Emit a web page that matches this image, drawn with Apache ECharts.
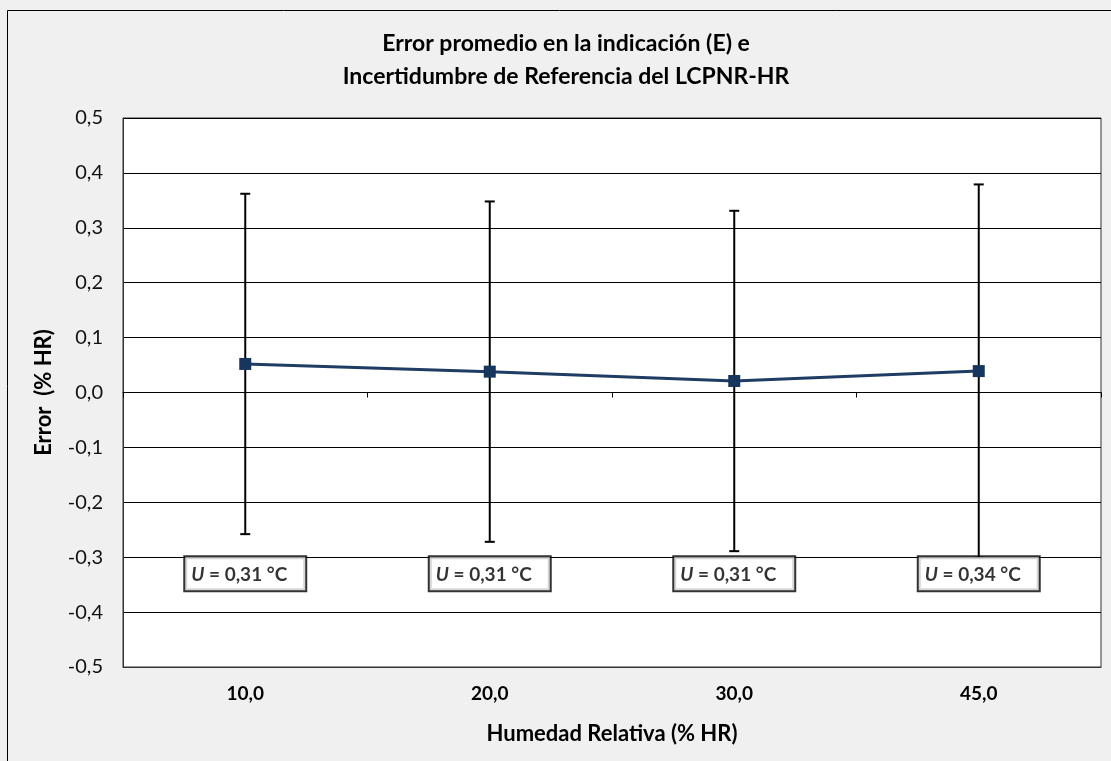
<!DOCTYPE html>
<html>
<head>
<meta charset="utf-8">
<script src="https://cdn.jsdelivr.net/npm/echarts@6/dist/echarts.min.js"></script>
<style>
  html, body { margin: 0; padding: 0; background: #f0f0f0; }
  #chart { width: 1111px; height: 761px; }
</style>
</head>
<body>
<div id="chart"></div>
<script>
// Humedad relativa nominal (categorías del eje X)
const categories = ['10,0', '20,0', '30,0', '45,0'];
// Error promedio en la indicación E (% HR)
const errorE = [0.052, 0.038, 0.021, 0.039];
// Incertidumbre expandida de referencia U
const uncertaintyU = [0.31, 0.31, 0.31, 0.34];
// Eje Y
const yMin = -0.5;
const yMax = 0.5;
const yStep = 0.1;

const FONT = 'Lato, "Open Sans", sans-serif';
const fmtComma = (v, d) => v.toFixed(d).replace('.', ',');

// Barras de error: E ± U
const errorBars = errorE.map((e, i) => [i, e - uncertaintyU[i], e + uncertaintyU[i]]);
// Cuadros de texto con el valor de U, anclados bajo cada barra
const uBoxes = uncertaintyU.map((u, i) => ({ value: [i, -0.33], u: u }));

const chart = echarts.init(document.getElementById('chart'), null, { renderer: 'canvas' });

chart.setOption({
  backgroundColor: '#f0f0f0',
  animation: false,
  graphic: [
    {
      type: 'rect',
      shape: { x: 7.5, y: 10.5, width: 1200, height: 800 },
      style: { fill: 'none', stroke: '#000', lineWidth: 1 },
      silent: true,
      z: -10
    },
    {
      type: 'text',
      x: 566, y: 27,
      style: {
        text: 'Error promedio en la indicación (E) e\nIncertidumbre de Referencia del LCPNR-HR',
        textAlign: 'center',
        fill: '#000',
        font: 'bold 23px ' + FONT,
        lineHeight: 33
      }
    }
  ],
  grid: {
    left: 123, right: 10, top: 118, bottom: 94,
    show: true,
    backgroundColor: '#ffffff',
    borderColor: '#333',
    borderWidth: 1
  },
  xAxis: [
    {
      type: 'category',
      data: categories,
      boundaryGap: true,
      position: 'bottom',
      name: 'Humedad Relativa (% HR)',
      nameLocation: 'middle',
      nameGap: 56,
      nameTextStyle: { fontFamily: FONT, fontSize: 22, fontWeight: 'bold', color: '#000' },
      axisLine: { onZero: false, show: true, lineStyle: { color: '#333', width: 1 } },
      axisTick: { show: false },
      axisLabel: { fontFamily: FONT, fontSize: 19, fontWeight: 'bold', color: '#000', margin: 17 },
      splitLine: { show: false }
    },
    {
      // marcas de categoría sobre la línea de cero
      type: 'category',
      data: categories,
      boundaryGap: true,
      position: 'bottom',
      axisLine: { onZero: true, show: true, lineStyle: { color: '#000', width: 1 } },
      axisTick: { show: true, length: 5, lineStyle: { color: '#000' } },
      axisLabel: { show: false },
      splitLine: { show: false }
    }
  ],
  yAxis: {
    type: 'value',
    min: yMin,
    max: yMax,
    interval: yStep,
    name: 'Error  (% HR)',
    nameLocation: 'middle',
    nameRotate: 90,
    nameGap: 68,
    nameTextStyle: { fontFamily: FONT, fontSize: 22, fontWeight: 'bold', color: '#000' },
    axisLine: { show: true, lineStyle: { color: '#333' } },
    axisTick: { show: false },
    axisLabel: {
      fontFamily: FONT, fontSize: 20, color: '#111', margin: 20,
      formatter: v => fmtComma(v, 1)
    },
    splitLine: { show: true, lineStyle: { color: '#000', width: 1 } }
  },
  series: [
    {
      name: 'Incertidumbre',
      type: 'custom',
      xAxisIndex: 0,
      data: errorBars,
      z: 2,
      renderItem: (params, api) => {
        const lo = api.coord([api.value(0), api.value(1)]);
        const hi = api.coord([api.value(0), api.value(2)]);
        const cap = 5;
        const style = { stroke: '#000', lineWidth: 2 };
        return {
          type: 'group',
          children: [
            { type: 'line', shape: { x1: hi[0], y1: hi[1], x2: lo[0], y2: lo[1] }, style },
            { type: 'line', shape: { x1: hi[0] - cap, y1: hi[1], x2: hi[0] + cap, y2: hi[1] }, style },
            { type: 'line', shape: { x1: lo[0] - cap, y1: lo[1], x2: lo[0] + cap, y2: lo[1] }, style }
          ]
        };
      }
    },
    {
      name: 'E',
      type: 'line',
      xAxisIndex: 0,
      data: errorE,
      z: 3,
      symbol: 'rect',
      symbolSize: 12,
      lineStyle: { color: '#1f3c64', width: 3 },
      itemStyle: { color: '#17365d' }
    },
    {
      name: 'U',
      type: 'scatter',
      xAxisIndex: 0,
      data: uBoxes,
      z: 4,
      symbolSize: 2,
      itemStyle: { color: 'rgba(0,0,0,0)' },
      labelLayout: { hideOverlap: false },
      label: {
        show: true,
        position: 'inside',
        offset: [3, 0],
        formatter: p => '{u|U}{t| = ' + fmtComma(p.data.u, 2) + ' °C}',
        backgroundColor: '#fff',
        borderColor: '#000',
        borderWidth: 2,
        padding: [8, 18, 6, 6],
        rich: {
          u: { fontFamily: FONT, fontSize: 19, fontWeight: 'bold', fontStyle: 'italic', color: '#000' },
          t: { fontFamily: FONT, fontSize: 19, fontWeight: 'bold', color: '#000' }
        }
      }
    }
  ]
});
</script>
</body>
</html>
